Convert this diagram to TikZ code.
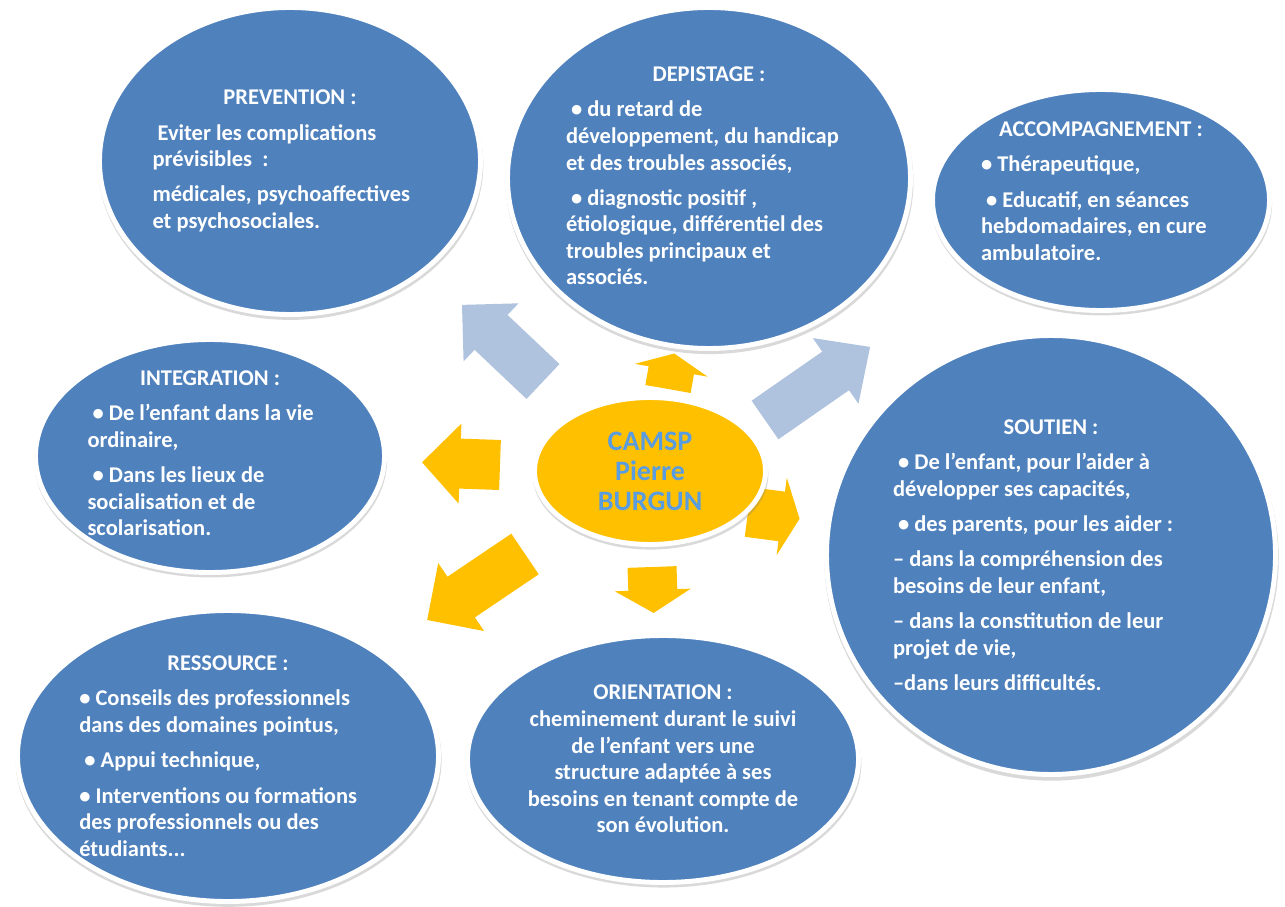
\documentclass[tikz,border=0pt]{standalone}
\usepackage{fontspec}
\setmainfont{Carlito}
\usetikzlibrary{shapes.geometric,shadows}

\definecolor{topicblue}{HTML}{4F81BD}
\definecolor{paleblue}{HTML}{AFC3DF}
\definecolor{gold}{HTML}{FFC000}
\definecolor{hubtext}{HTML}{5A9CE0}

\begin{document}
\begin{tikzpicture}[
  topic/.style={ellipse, fill=topicblue, draw=white, line width=2.8pt, inner sep=-1.2cm,
    text=white, align=left, font=\fontsize{12.8}{15.1}\selectfont\bfseries,
    execute at begin node={\spaceskip=\fontdimen2\font\xspaceskip=\fontdimen2\font},
    drop shadow={shadow xshift=0.3pt, shadow yshift=-2pt, shadow scale=1.012, opacity=0.3}},
  hub/.style={ellipse, fill=gold, draw=white, line width=2.8pt, inner sep=0pt,
    minimum width=4.62cm, minimum height=2.94cm, text=hubtext, align=center,
    font=\fontsize{16}{17.1}\selectfont\bfseries,
    drop shadow={shadow xshift=0.3pt, shadow yshift=-2pt, shadow scale=1.02, opacity=0.3}},
  pics/bigarrow/.style n args={5}{code={
    \fill[#5] (0,-#2) -- (#1-#4,-#2) -- (#1-#4,-#3) -- (#1,0)
      -- (#1-#4,#3) -- (#1-#4,#2) -- (0,#2) -- cycle;}}
]
\useasboundingbox (0,0) rectangle (25.70,18.12);

% Topics
\node[topic, minimum width=7.62cm, minimum height=6.14cm, text width=5.5cm] (prev) at (5.80,14.90) {%
{\centering PREVENTION :\\[5pt]}
\ Eviter les complications\\
prévisibles\ \ :\\[5pt]
médicales, psychoaffectives\\
et psychosociales.};

\node[topic, minimum width=8.06cm, minimum height=6.82cm, text width=5.72cm] (dep) at (14.18,14.56) {%
{\centering DEPISTAGE :\\[5pt]}
\ \textbullet{} du retard de\\
développement, du handicap\\
et des troubles associés,\\[5pt]
\ \textbullet{} diagnostic positif ,\\
étiologique, différentiel des\\
troubles principaux et\\
associés.\par\vspace*{0.08cm}};

\node[topic, minimum width=6.74cm, minimum height=4.42cm, text width=4.8cm] (acc) at (22.02,14.12) {%
{\centering ACCOMPAGNEMENT :\\[5pt]}
\textbullet{} Thérapeutique,\\[5pt]
\ \textbullet{} Educatif, en séances\\
hebdomadaires, en cure\\
ambulatoire.\par\vspace*{0.36cm}};

\node[topic, minimum width=6.98cm, minimum height=4.66cm, text width=4.9cm] (integ) at (4.20,9.00) {%
{\centering INTEGRATION :\\[5pt]}
\ \textbullet{} De l'enfant dans la vie\\
ordinaire,\\[5pt]
\ \textbullet{} Dans les lieux de\\
socialisation et de\\
scolarisation.\par\vspace*{0.1cm}};

\node[topic, minimum width=8.98cm, minimum height=8.78cm, text width=6.32cm] (sout) at (21.02,7.02) {%
{\centering SOUTIEN :\\[5pt]}
\ \textbullet{} De l'enfant, pour l'aider à\\
développer ses capacités,\\[5pt]
\ \textbullet{} des parents, pour les aider :\\[5pt]
-- dans la compréhension des\\
besoins de leur enfant,\\[5pt]
-- dans la constitution de leur\\
projet de vie,\\[5pt]
--dans leurs difficultés.};

\node[topic, minimum width=8.42cm, minimum height=5.82cm, text width=5.95cm] (ress) at (4.56,3.00) {%
{\centering RESSOURCE :\\[5pt]}
\textbullet{} Conseils des professionnels\\
dans des domaines pointus,\\[5pt]
\ \textbullet{} Appui technique,\\[5pt]
\textbullet{} Interventions ou formations\\
des professionnels ou des\\
étudiants...};

\node[topic, minimum width=7.82cm, minimum height=4.94cm, text width=6cm, align=center] (orient) at (13.26,2.94) {%
ORIENTATION :\\
cheminement durant le suivi\\
de l'enfant vers une\\
structure adaptée à ses\\
besoins en tenant compte de\\
son évolution.};

% Arrows out of the centre
\pic[rotate=136.6] at (10.86,10.49) {bigarrow={2.23}{0.48}{0.80}{0.80}{paleblue}};
\pic[rotate=80]    at (13.36,10.34) {bigarrow={0.72}{0.46}{0.74}{0.34}{gold}};
\pic[rotate=34.8]  at (15.30,9.72)  {bigarrow={2.56}{0.47}{0.80}{0.84}{paleblue}};
\pic[rotate=178]   at (10.00,8.82)  {bigarrow={1.56}{0.50}{0.80}{0.76}{gold}};
\pic[rotate=-7.5]  at (14.96,7.88)  {bigarrow={1.04}{0.50}{0.78}{0.36}{gold}};
\pic[rotate=214]   at (10.50,7.04)  {bigarrow={2.36}{0.49}{0.82}{0.82}{gold}};
\pic[rotate=-88]   at (13.04,6.78)  {bigarrow={0.92}{0.49}{0.76}{0.46}{gold}};

% Centre
\node[hub] (camsp) at (13.00,8.70) {CAMSP\\Pierre\\BURGUN};

\end{tikzpicture}
\end{document}
